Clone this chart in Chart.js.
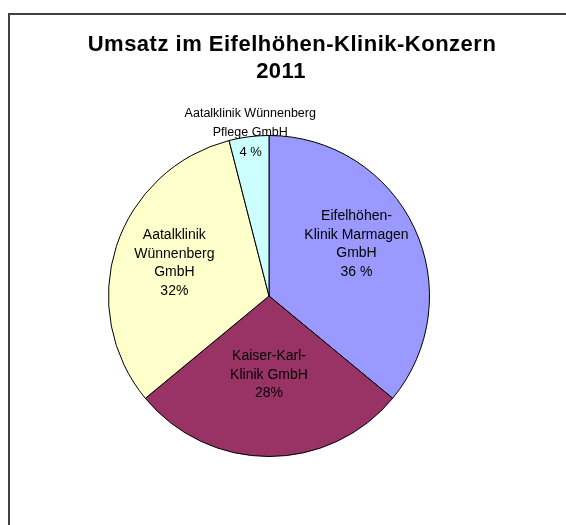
<!DOCTYPE html>
<html>
<head>
<meta charset="utf-8">
<script src="https://cdn.jsdelivr.net/npm/chart.js@4/dist/chart.umd.min.js"></script>
<style>
  html, body { margin: 0; padding: 0; background: #ffffff; }
  #wrap { position: relative; width: 566px; height: 525px; }
</style>
</head>
<body>
<div id="wrap"><canvas id="c" width="566" height="525"></canvas></div>
<script>
// ---- data ----
const chartTitle = ['Umsatz im Eifelhöhen-Klinik-Konzern', '2011'];
const categories = [
  'Eifelhöhen-Klinik Marmagen GmbH',
  'Kaiser-Karl-Klinik GmbH',
  'Aatalklinik Wünnenberg GmbH',
  'Aatalklinik Wünnenberg Pflege GmbH'
];
const shares = [36, 28, 32, 4];
const percentLabels = ['36 %', '28%', '32%', '4 %'];
const nameLines = [
  ['Eifelhöhen-', 'Klinik Marmagen', 'GmbH'],
  ['Kaiser-Karl-', 'Klinik GmbH'],
  ['Aatalklinik', 'Wünnenberg', 'GmbH'],
  ['Aatalklinik Wünnenberg', 'Pflege GmbH']
];
const sliceColors = ['#9999FF', '#993366', '#FFFFCC', '#CCFFFF'];

// ---- label layout (style only) ----
const labelInside = [true, true, true, false];
const labelRadius = [0.63, 0.49, 0.62, 0.91];
const outsideRadius = 1.08;
const labelShift = [[-4, -9], [0, 0], [0, -2], [0, 1]];
const outsideShift = [3, -1];

const framePlugin = {
  id: 'frame',
  beforeDraw(chart) {
    const ctx = chart.ctx;
    ctx.save();
    ctx.fillStyle = '#ffffff';
    ctx.fillRect(0, 0, chart.width, chart.height);
    ctx.strokeStyle = '#404040';
    ctx.lineWidth = 2;
    ctx.beginPath();
    ctx.moveTo(9, chart.height + 2);
    ctx.lineTo(9, 14);
    ctx.lineTo(chart.width + 2, 14);
    ctx.stroke();
    // title
    ctx.fillStyle = '#000000';
    ctx.font = 'bold 22px "Liberation Sans", Arial, sans-serif';
    ctx.textAlign = 'center';
    ctx.textBaseline = 'middle';
    try { ctx.letterSpacing = '0.5px'; } catch (e) {}
    ctx.fillText(chartTitle[0], 292, 45);
    ctx.fillText(chartTitle[1], 281, 72);
    try { ctx.letterSpacing = '0px'; } catch (e) {}
    ctx.restore();
  }
};

const labelPlugin = {
  id: 'sliceLabels',
  afterDatasetsDraw(chart) {
    const ctx = chart.ctx;
    const meta = chart.getDatasetMeta(0);
    ctx.save();
    ctx.fillStyle = '#000000';
    ctx.textAlign = 'center';
    ctx.textBaseline = 'middle';
    meta.data.forEach((arc, i) => {
      const p = arc.getProps(['x', 'y', 'startAngle', 'endAngle', 'outerRadius'], true);
      const mid = (p.startAngle + p.endAngle) / 2;
      const lh = 18.5;
      if (labelInside[i]) {
        const lines = nameLines[i].concat([percentLabels[i]]);
        const cx = p.x + Math.cos(mid) * p.outerRadius * labelRadius[i] + labelShift[i][0];
        const cy = p.y + Math.sin(mid) * p.outerRadius * labelRadius[i] + labelShift[i][1];
        ctx.font = '14px "Liberation Sans", Arial, sans-serif';
        lines.forEach((t, k) => {
          ctx.fillText(t, cx, cy + (k - (lines.length - 1) / 2) * lh);
        });
      } else {
        const cx = p.x + Math.cos(mid) * p.outerRadius * labelRadius[i] + labelShift[i][0];
        const cy = p.y + Math.sin(mid) * p.outerRadius * labelRadius[i] + labelShift[i][1];
        ctx.font = '13px "Liberation Sans", Arial, sans-serif';
        ctx.fillText(percentLabels[i], cx, cy);
        const ox = p.x + Math.cos(mid) * p.outerRadius * outsideRadius + outsideShift[0];
        const oy = p.y + Math.sin(mid) * p.outerRadius * outsideRadius + outsideShift[1];
        ctx.font = '12.5px "Liberation Sans", Arial, sans-serif';
        const lines = nameLines[i];
        lines.forEach((t, k) => {
          ctx.fillText(t, ox, oy + (k - (lines.length - 1) / 2) * lh);
        });
      }
    });
    ctx.restore();
  }
};

new Chart(document.getElementById('c'), {
  type: 'pie',
  data: {
    labels: categories,
    datasets: [{
      data: shares,
      backgroundColor: sliceColors,
      borderColor: '#000000',
      borderWidth: 1,
      hoverBorderWidth: 1,
      hoverOffset: 0,
      offset: 0
    }]
  },
  options: {
    responsive: false,
    animation: false,
    events: [],
    layout: { padding: { left: 108, top: 135, right: 136, bottom: 68 } },
    plugins: {
      legend: { display: false },
      tooltip: { enabled: false },
      title: { display: false }
    }
  },
  plugins: [framePlugin, labelPlugin]
});
</script>
</body>
</html>
